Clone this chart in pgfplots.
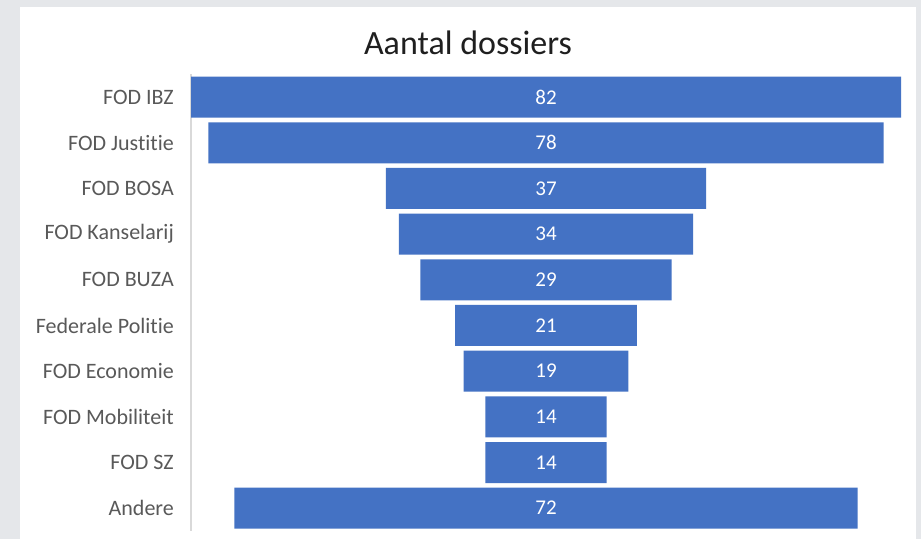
\documentclass[border=0pt]{standalone}
\usepackage{fontspec}
\setmainfont[Ligatures=NoCommon]{Carlito}
\usepackage{pgfplots}
\usepackage{pgfplotstable}
\pgfplotsset{compat=1.18}

\definecolor{barblue}{HTML}{4472C4}
\definecolor{labgray}{HTML}{595959}
\definecolor{linegray}{HTML}{D9D9D9}
\definecolor{bggray}{HTML}{E5E7EA}

% funnel: invisible offset, then the bar itself (label centred in the segment)
\pgfplotstableread{
i v  off
0 82 0
1 78 2
2 37 22.5
3 34 24
4 29 26.5
5 21 30.5
6 19 31.5
7 14 34
8 14 34
9 72 5
}\funnel

\begin{document}
\begin{tikzpicture}
\fill[bggray] (0,0) rectangle (921bp,539bp);
\fill[white] (20bp,0) rectangle (916bp,532bp);
\node[font=\fontsize{34bp}{40bp}\selectfont, text=black!88] at (468bp,496bp) {Aantal dossiers};
\begin{axis}[
  at={(191bp,8bp)}, anchor=south west,
  scale only axis,
  width=710bp, height=456.7bp,
  xbar stacked,
  bar width=41bp,
  xmin=0, xmax=82,
  ymin=-0.5, ymax=9.5,
  y dir=reverse,
  axis x line=none,
  axis y line=left,
  y axis line style={-, draw=linegray, line width=1.2bp},
  ytick={0,...,9},
  yticklabels={FOD IBZ,FOD Justitie,FOD BOSA,FOD Kanselarij,FOD BUZA,Federale Politie,FOD Economie,FOD Mobiliteit,FOD SZ,Andere},
  major tick length=0pt,
  yticklabel style={font=\fontsize{22bp}{26bp}\selectfont, text=labgray, inner sep=0pt, xshift=-17bp},
  clip=false,
]
\addplot[draw=none, fill=none] table[x=off, y=i] {\funnel};
\addplot[draw=none, fill=barblue,
  point meta=explicit symbolic,
  nodes near coords={\pgfplotspointmeta},
  every node near coord/.append style={anchor=center, text=white, font=\fontsize{21bp}{25bp}\selectfont}]
  table[x=v, y=i, meta=v] {\funnel};
\end{axis}
\end{tikzpicture}
\end{document}
